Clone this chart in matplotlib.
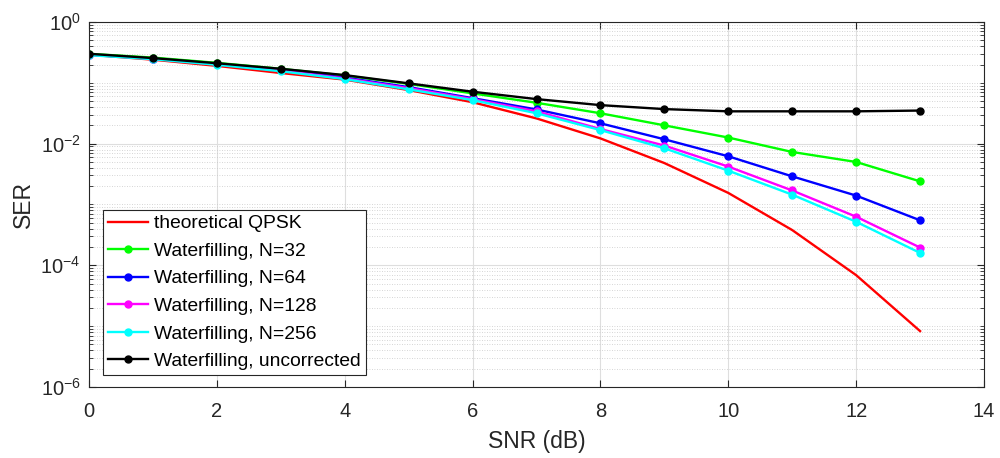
import matplotlib
matplotlib.use("Agg")
import matplotlib.pyplot as plt
from matplotlib.ticker import LogLocator, NullFormatter

snr = [0, 1, 2, 3, 4, 5, 6, 7, 8, 9, 10, 11, 12, 13]

# values
ser_theory = [0.29, 0.24, 0.19, 0.145, 0.113, 0.076, 0.048, 0.026, 0.0122, 0.0048,
              0.00155, 3.8e-4, 6.9e-5, 8.3e-6]
ser_n32 = [0.30, 0.26, 0.213, 0.17, 0.132, 0.096, 0.067, 0.047, 0.0316, 0.020,
           0.0126, 0.0073, 0.0050, 0.0024]
ser_n64 = [0.29, 0.25, 0.205, 0.163, 0.122, 0.085, 0.056, 0.0365, 0.0216, 0.0118,
           0.0062, 0.0029, 0.0014, 5.5e-4]
ser_n128 = [0.29, 0.248, 0.202, 0.16, 0.118, 0.082, 0.054, 0.034, 0.0174, 0.0093,
            0.0042, 0.0017, 6.3e-4, 1.96e-4]
ser_n256 = [0.285, 0.245, 0.198, 0.155, 0.115, 0.078, 0.052, 0.0316, 0.0167, 0.0084,
            0.0036, 0.00145, 5.2e-4, 1.6e-4]
ser_uncorr = [0.30, 0.255, 0.21, 0.17, 0.134, 0.098, 0.0714, 0.054, 0.043, 0.037,
              0.034, 0.034, 0.034, 0.035]

labels = ["theoretical QPSK", "Waterfilling, N=32", "Waterfilling, N=64",
          "Waterfilling, N=128", "Waterfilling, N=256", "Waterfilling, uncorrected"]

plt.rcParams['font.family'] = ['Liberation Sans', 'DejaVu Sans']
plt.rcParams['axes.unicode_minus'] = False
ax_col = '#262626'

fig = plt.figure(figsize=(10, 4.58), dpi=100)
ax = fig.add_axes([0.089, 0.155, 0.895, 0.797])

ax.plot(snr, ser_theory, color='#ff0000', lw=1.7, label=labels[0])
series = [ser_n32, ser_n64, ser_n128, ser_n256, ser_uncorr]
colors = ['#00ff00', '#0000ff', '#ff00ff', '#00ffff', '#000000']
for s, c, lab in zip(series, colors, labels[1:]):
    ax.plot(snr, s, color=c, lw=1.7, marker='o', ms=5, label=lab)

ax.set_yscale('log')
ax.set_xlim(0, 14)
ax.set_ylim(1e-6, 1)
ax.set_xticks(range(0, 15, 2))
ax.set_yticks([1e-6, 1e-4, 1e-2, 1])
ax.yaxis.set_minor_locator(LogLocator(base=10, subs=range(1, 10), numticks=20))
ax.yaxis.set_minor_formatter(NullFormatter())

ax.grid(True, which='major', color='#dedede', lw=0.8)
ax.grid(True, which='minor', axis='y', color='#c8c8c8', lw=0.6, ls=(0, (1, 2)))
ax.set_axisbelow(True)

ax.tick_params(which='both', direction='in', top=True, right=True, colors=ax_col,
               labelsize=14.5)
ax.tick_params(axis='x', pad=11)
ax.tick_params(axis='y', pad=6)
ax.tick_params(which='major', length=5)
ax.tick_params(which='minor', length=3)
for sp in ax.spines.values():
    sp.set_color(ax_col)
    sp.set_linewidth(0.8)

ax.set_xlabel('SNR (dB)', fontsize=16.5, color=ax_col, labelpad=6)
ax.set_ylabel('SER', fontsize=16.5, color=ax_col, labelpad=4)

leg = ax.legend(loc='lower left', bbox_to_anchor=(0.0156, 0.033), fontsize=13.9,
                fancybox=False, framealpha=1, edgecolor=ax_col, borderpad=0.25,
                labelspacing=0.52, handlelength=2.1, handletextpad=0.3,
                borderaxespad=0)
leg.get_frame().set_linewidth(0.8)
for t in leg.get_texts():
    t.set_color('#000000')

fig.savefig('out.png', dpi=100)
